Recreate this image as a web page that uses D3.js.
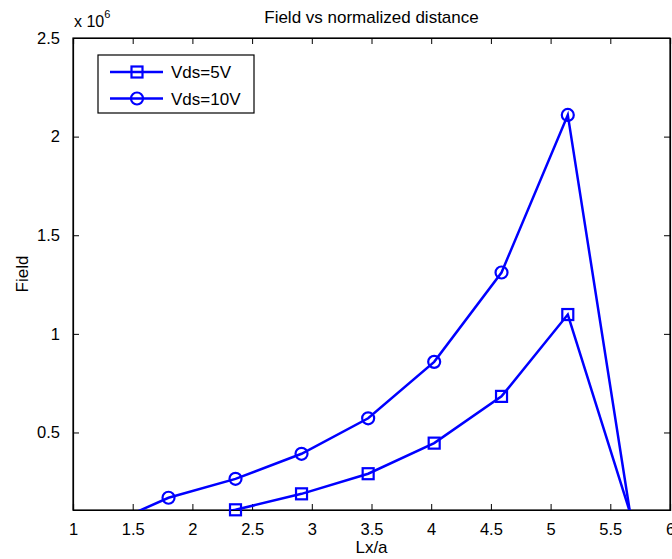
<!DOCTYPE html>
<html>
<head>
<meta charset="utf-8">
<script src="https://cdn.jsdelivr.net/npm/d3@7"></script>
<style>
  body { margin: 0; background: #fff; }
  text { font-family: "Liberation Sans", Arial, sans-serif; fill: #000; }
</style>
</head>
<body>
<div id="chart"></div>
<script>

// data (field in units of 1e6)
let lxa = [1.245, 1.80, 2.361, 2.914, 3.472, 4.025, 4.589, 5.144, 5.665];
let field5V = [0.01, 0.04, 0.108, 0.189, 0.291, 0.446, 0.683, 1.098, 0.095];
let field10V = [0.02, 0.169, 0.265, 0.392, 0.572, 0.858, 1.311, 2.11, 0.095];
let seriesNames = ["Vds=5V", "Vds=10V"];
let xTicks = [1, 1.5, 2, 2.5, 3, 3.5, 4, 4.5, 5, 5.5, 6];
let yTicks = [0.5, 1, 1.5, 2, 2.5];

let margin = {top: 38, right: 2, bottom: 49, left: 73};
let W = 672, H = 559;
let width = W - margin.left - margin.right;
let height = H - margin.top - margin.bottom;

let svg = d3.select("#chart").append("svg")
	.attr("width", W)
	.attr("height", H);

let g = svg.append("g")
	.attr("transform", "translate(" + margin.left + "," + margin.top + ")");

// Scales
let x = d3.scaleLinear().domain([1, 6]).range([0, width]);
let y = d3.scaleLinear().domain([0.107, 2.5]).range([height, 0]);

// clip for the lines
g.append("defs").append("clipPath")
	.attr("id", "clip")
	.append("rect")
	.attr("width", width)
	.attr("height", height);

// axes with inward ticks on all four sides (matlab box style)
let tickLen = 6;
let fmt = d => d3.format("")(d);

let xAxis = d3.axisBottom(x).tickValues(xTicks).tickSize(-tickLen).tickPadding(tickLen + 7).tickFormat(fmt);
let yAxis = d3.axisLeft(y).tickValues(yTicks).tickSize(-tickLen).tickPadding(tickLen + 7).tickFormat(fmt);

g.append("g").attr("class", "axis")
	.attr("transform", "translate(0," + height + ")")
	.call(xAxis);
g.append("g").attr("class", "axis")
	.call(yAxis);
g.append("g").attr("class", "axis")
	.call(d3.axisTop(x).tickValues(xTicks).tickSize(-tickLen).tickFormat(""));
g.append("g").attr("class", "axis")
	.attr("transform", "translate(" + width + ",0)")
	.call(d3.axisRight(y).tickValues(yTicks).tickSize(-tickLen).tickFormat(""));

g.selectAll(".axis path").attr("stroke", "#000").attr("stroke-width", 1.2);
g.selectAll(".axis line").attr("stroke", "#000");
g.selectAll(".axis text")
	.style("font-size", "16.5px")
	.style("font-family", "'Liberation Sans', Arial, sans-serif");

// box
g.append("rect")
	.attr("width", width)
	.attr("height", height)
	.attr("fill", "none")
	.attr("stroke", "#000")
	.attr("stroke-width", 1.2);

// Lines
let line = d3.line()
	.x(d => x(d[0]))
	.y(d => y(d[1]));

let blue = "#0000ff";
let d5 = lxa.map((v, i) => [v, field5V[i]]);
let d10 = lxa.map((v, i) => [v, field10V[i]]);

g.append("path")
	.datum(d5)
	.attr("clip-path", "url(#clip)")
	.attr("d", line)
	.attr("fill", "none")
	.attr("stroke", blue)
	.attr("stroke-width", 2.5);

g.append("path")
	.datum(d10)
	.attr("clip-path", "url(#clip)")
	.attr("d", line)
	.attr("fill", "none")
	.attr("stroke", blue)
	.attr("stroke-width", 2.5);

// markers (only points inside the axis limits are drawn)
let inside = d => d[1] >= y.domain()[0] && d[1] <= y.domain()[1];

g.selectAll(".sq")
	.data(d5.filter(inside))
	.enter().append("rect")
	.attr("class", "sq")
	.attr("x", d => x(d[0]) - 5.5)
	.attr("y", d => y(d[1]) - 5.5)
	.attr("width", 11)
	.attr("height", 11)
	.attr("fill", "none")
	.attr("stroke", blue)
	.attr("stroke-width", 2.2);

g.selectAll(".circ")
	.data(d10.filter(inside))
	.enter().append("circle")
	.attr("class", "circ")
	.attr("cx", d => x(d[0]))
	.attr("cy", d => y(d[1]))
	.attr("r", 6)
	.attr("fill", "none")
	.attr("stroke", blue)
	.attr("stroke-width", 2.2);

// Legend
let leg = svg.append("g").attr("transform", "translate(98,55)");
leg.append("rect")
	.attr("width", 156)
	.attr("height", 58)
	.attr("fill", "#fff")
	.attr("stroke", "#000")
	.attr("stroke-width", 1.2);

seriesNames.forEach((name, i) => {
	let ly = 17 + i * 26.5;
	leg.append("line")
		.attr("x1", 12).attr("x2", 65)
		.attr("y1", ly).attr("y2", ly)
		.attr("stroke", blue)
		.attr("stroke-width", 2.5);
	if (i == 0) {
		leg.append("rect")
			.attr("x", 39 - 5.5).attr("y", ly - 5.5)
			.attr("width", 11).attr("height", 11)
			.attr("fill", "none").attr("stroke", blue).attr("stroke-width", 2.2);
	} else {
		leg.append("circle")
			.attr("cx", 39).attr("cy", ly).attr("r", 6)
			.attr("fill", "none").attr("stroke", blue).attr("stroke-width", 2.2);
	}
	leg.append("text")
		.attr("x", 73)
		.attr("y", ly + 6)
		.style("font-size", "17px")
		.text(name);
});

// Title and labels
svg.append("text")
	.attr("x", margin.left + width / 2)
	.attr("y", 23)
	.attr("text-anchor", "middle")
	.style("font-size", "17px")
	.text("Field vs normalized distance");

svg.append("text")
	.attr("x", margin.left + width / 2)
	.attr("y", 553)
	.attr("text-anchor", "middle")
	.style("font-size", "17px")
	.text("Lx/a");

svg.append("text")
	.attr("transform", "translate(28," + (margin.top + height / 2) + ") rotate(-90)")
	.attr("text-anchor", "middle")
	.style("font-size", "17px")
	.text("Field");

// exponent label
let ex = svg.append("text")
	.attr("x", 74)
	.attr("y", 27)
	.style("font-size", "16px");
ex.append("tspan").text("x 10");
ex.append("tspan").attr("dy", -9).style("font-size", "11px").text("6");

</script>
</body>
</html>
